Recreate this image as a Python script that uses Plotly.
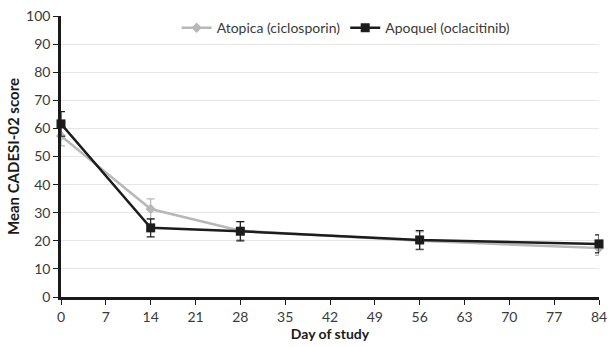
import plotly.graph_objects as go

days = [0, 14, 28, 56, 84]
atopica = [57.3, 31.3, 23.6, 20.0, 17.4]
atopica_err = [3.5, 3.6, 3.2, 3.2, 2.6]
apoquel = [61.6, 24.6, 23.4, 20.3, 18.9]
apoquel_err = [4.4, 3.2, 3.4, 3.3, 3.2]
x_ticks = list(range(0, 85, 7))
y_ticks = list(range(0, 101, 10))

FONT = "Lato, 'Open Sans', sans-serif"

fig = go.Figure()
fig.add_trace(go.Scatter(
    x=days, y=atopica, name="Atopica (ciclosporin)", mode="lines+markers",
    line=dict(color="#b8b8b8", width=2.5),
    marker=dict(symbol="diamond", size=8, color="#b8b8b8"),
    error_y=dict(type="data", array=atopica_err, color="#b8b8b8", thickness=1.2, width=4),
    cliponaxis=False,
))
fig.add_trace(go.Scatter(
    x=days, y=apoquel, name="Apoquel (oclacitinib)", mode="lines+markers",
    line=dict(color="#1c1c1c", width=2.5),
    marker=dict(symbol="square", size=9, color="#1c1c1c"),
    error_y=dict(type="data", array=apoquel_err, color="#1c1c1c", thickness=1.2, width=4),
    cliponaxis=False,
))

fig.update_layout(
    width=614, height=347,
    margin=dict(l=61, r=7, t=16, b=49),
    paper_bgcolor="white", plot_bgcolor="white",
    font=dict(family=FONT, size=14, color="#3a3a3a"),
    showlegend=True,
    legend=dict(orientation="h", x=0.53, xanchor="center", y=0.957, yanchor="middle",
                font=dict(size=14, color="#3a3a3a"), bgcolor="rgba(0,0,0,0)",
                itemwidth=30, tracegroupgap=0),
    xaxis=dict(range=[0, 84], tickvals=x_ticks, showgrid=False, zeroline=False,
               showline=True, linecolor="#1a1a1a", linewidth=2.5,
               ticks="outside", ticklen=5, tickwidth=1.2, tickcolor="#1a1a1a",
               ticklabeloverflow="allow",
               title=dict(text="<b>Day of study</b>", font=dict(size=14, color="#1a1a1a"), standoff=6)),
    yaxis=dict(range=[0, 100], tickvals=y_ticks, showgrid=True, gridcolor="#e6e6e6", gridwidth=1,
               zeroline=False, showline=True, linecolor="#1a1a1a", linewidth=2.5,
               ticks="outside", ticklen=5, tickwidth=1.2, tickcolor="#1a1a1a",
               title=dict(text="<b>Mean CADESI-02 score</b>", font=dict(size=15, color="#1a1a1a"), standoff=3)),
)

fig.write_html("out.html", config={"displayModeBar": False},
               post_script="document.body.style.margin='0';document.body.style.overflow='hidden';")
